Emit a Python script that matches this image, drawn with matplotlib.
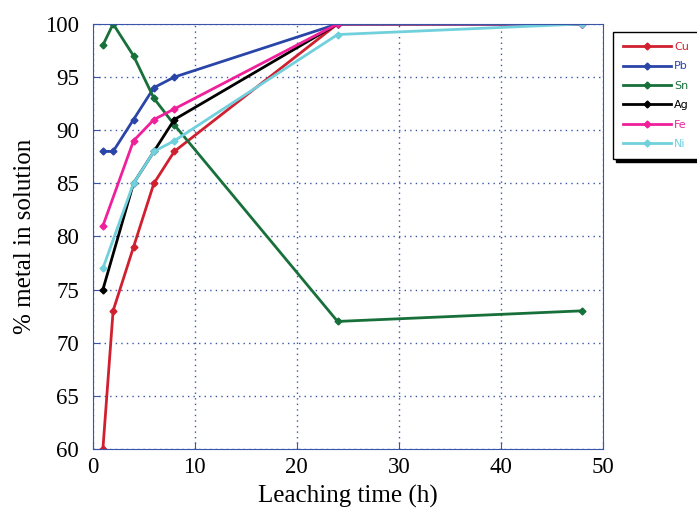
import matplotlib.pyplot as plt

# leaching time (h)
time_full = [1, 2, 4, 6, 8, 24, 48]
time_short = [1, 4, 6, 8, 24, 48]

cu = [60, 73, 79, 85, 88, 100, 100]
pb = [88, 88, 91, 94, 95, 100, 100]
sn = [98, 100, 97, 93, 90.5, 72, 73]
ag = [75, 85, 88, 91, 100, 100]
fe = [81, 89, 91, 92, 100, 100]
ni = [77, 85, 88, 89, 99, 100]

series = [
    ('Cu', time_full, cu, '#d02030'),
    ('Pb', time_full, pb, '#2a45a8'),
    ('Sn', time_full, sn, '#17703a'),
    ('Ag', time_short, ag, '#000000'),
    ('Fe', time_short, fe, '#f0209a'),
    ('Ni', time_short, ni, '#70d0dc'),
]

blue = '#3a55a8'

fig = plt.figure(figsize=(6.97, 5.09), dpi=100)
ax = fig.add_axes([0.133, 0.118, 0.732, 0.835])

for name, x, y, c in series:
    ax.plot(x, y, color=c, lw=2, marker='D', ms=3.5, label=name)

ax.set_xlim(0, 50)
ax.set_ylim(60, 100)
ax.set_xticks(range(0, 51, 10))
ax.set_yticks(range(60, 101, 5))
ax.grid(True, color=blue, linestyle=(0, (1, 3)), lw=1)
for s in ax.spines.values():
    s.set_color(blue)
ax.tick_params(direction='in', color=blue, length=5, labelsize=16.5)
ax.tick_params(axis='y', pad=10)
ax.tick_params(axis='x', pad=6)
for lab in ax.get_xticklabels() + ax.get_yticklabels():
    lab.set_fontfamily('Liberation Serif')

ax.set_xlabel('Leaching time (h)', fontsize=18, family='Liberation Serif', labelpad=5)
ax.set_ylabel('% metal in solution', fontsize=18, family='Liberation Serif', labelpad=6)

leg = ax.legend(loc='upper left', bbox_to_anchor=(613 / 697, 1 - 32 / 509),
                bbox_transform=fig.transFigure, fontsize=8, frameon=True,
                fancybox=False, edgecolor='black', handlelength=4.3,
                handletextpad=0.3, borderaxespad=0, borderpad=0.9,
                labelspacing=0.85, shadow={'color': 'black', 'alpha': 1})
for t, (name, x, y, c) in zip(leg.get_texts(), series):
    t.set_color(c)

fig.savefig('out.png', dpi=100)
